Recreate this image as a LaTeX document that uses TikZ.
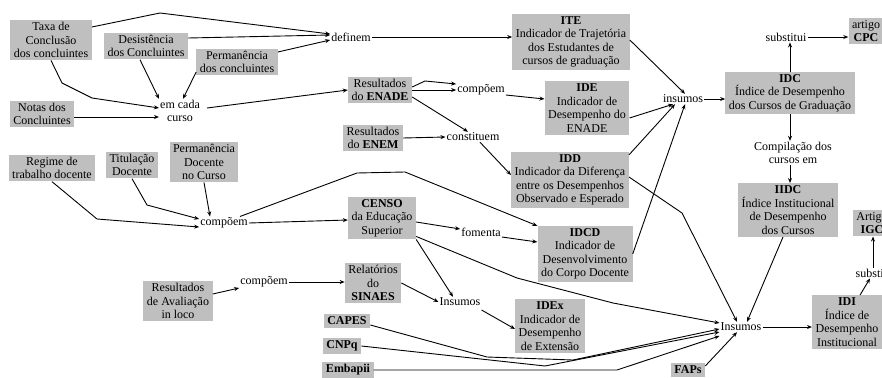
\documentclass[tikz,border=0pt]{standalone}
\usepackage{fontspec}
\setmainfont{Liberation Serif}
\usepackage{tikz}
\usetikzlibrary{arrows.meta}
\definecolor{boxgray}{RGB}{191,191,191}
\tikzset{
  infobox/.style={rectangle, fill=boxgray, align=center, inner xsep=3.5pt, inner ysep=2.5pt, font=\fontsize{12}{13.5}\selectfont},
  linkword/.style={align=center, inner sep=1pt, font=\fontsize{12}{13.5}\selectfont},
  flow/.style={-{Stealth[length=5pt,width=4pt]}, line width=0.9pt},
}
\begin{document}
\begin{tikzpicture}[x=1pt, y=-1pt]
\useasboundingbox (0,0) rectangle (882,377);
\clip (0,0) rectangle (882,377);
\node[infobox] (taxa) at (51,40) {Taxa de\\Conclusão\\dos concluintes};
\node[infobox] (desist) at (146,46) {Desistência\\dos Concluintes};
\node[infobox] (permc) at (237,62) {Permanência\\dos concluintes};
\node[infobox] (notas) at (42,114) {Notas dos\\Concluintes};
\node[linkword] (emcada) at (180,111) {em cada\\curso};
\node[linkword] (definem) at (351,37) {definem};
\node[infobox] (enade) at (380,90) {Resultados\\do \textbf{ENADE}};
\node[infobox] (enem) at (373,138) {Resultados\\do \textbf{ENEM}};
\node[infobox] (regime) at (52,168) {Regime de\\trabalho docente};
\node[infobox] (titul) at (132,165) {Titulação\\Docente};
\node[infobox] (permd) at (204,162) {Permanência\\Docente\\no Curso};
\node[linkword] (compdoc) at (224,223) {compõem};
\node[infobox] (censo) at (382,218) {\textbf{CENSO}\\da Educação\\Superior};
\node[infobox] (avali) at (178,301) {Resultados\\de Avaliação\\in loco};
\node[linkword] (compaval) at (264,282) {compõem};
\node[infobox] (sinaes) at (373,283) {Relatórios\\do\\\textbf{SINAES}};
\node[infobox] (capes) at (347,321) {\textbf{CAPES}};
\node[infobox] (cnpq) at (342,346) {\textbf{CNPq}};
\node[infobox] (embapii) at (348,370) {\textbf{Embapii}};
\node[infobox] (faps) at (688,370) {\textbf{FAPs}};
\node[linkword] (compenade) at (481,90) {compõem};
\node[linkword] (constituem) at (473,137) {constituem};
\node[infobox] (ite) at (571,42) {\textbf{ITE}\\Indicador de Trajetória\\dos Estudantes de\\cursos de graduação};
\node[infobox] (ide) at (587,108) {\textbf{IDE}\\Indicador de\\Desempenho do\\ENADE};
\node[infobox] (idd) at (570,180) {\textbf{IDD}\\Indicador da Diferença\\entre os Desempenhos\\Observado e Esperado};
\node[linkword] (fomenta) at (481,232) {fomenta};
\node[infobox] (idcd) at (585,254) {\textbf{IDCD}\\Indicador de\\Desenvolvimento\\do Corpo Docente};
\node[linkword] (insumosb) at (460,302) {Insumos};
\node[infobox] (idex) at (550,326) {\textbf{IDEx}\\Indicador de\\Desempenho\\de Extensão};
\node[linkword] (insumosa) at (683,99) {insumos};
\node[infobox] (idc) at (790,93) {\textbf{IDC}\\Índice de Desempenho\\dos Cursos de Graduação};
\node[linkword] (substa) at (786,37) {substitui};
\node[infobox] (cpc) at (866,31) {artigo\\\textbf{CPC}};
\node[linkword] (compil) at (793,153) {Compilação dos\\cursos em};
\node[infobox] (iidc) at (788,210) {\textbf{IIDC}\\Índice Institucional\\de Desempenho\\dos Cursos};
\node[linkword] (insumosc) at (741,327) {Insumos};
\node[infobox] (idi) at (847,322) {\textbf{IDI}\\Índice de\\Desempenho\\Institucional};
\node[linkword] (substb) at (876,273) {substitui};
\node[infobox] (igc) at (872,223) {Artigo\\\textbf{IGC}};

\draw[flow] ([yshift=13pt]taxa.east) -- (160,13) -- ([yshift=3pt]definem.west);
\draw[flow] ([yshift=8pt]desist.east) -- ([yshift=2pt]definem.west);
\draw[flow] ([yshift=10pt]permc.east) -- ([yshift=-3pt]definem.west);
\draw[flow] (definem.east) -- (ite.west |- definem.east);
\draw[flow] (taxa.south) -- (62,83) -- (92,98) -- ([yshift=3pt]emcada.west);
\draw[flow] ([xshift=-6pt]desist.south) -- (emcada.north west);
\draw[flow] ([yshift=-10pt]permc.west) -- ([xshift=3pt]emcada.north);
\draw[flow] ([yshift=-3pt]notas.east) -- ([yshift=-6pt]emcada.west);
\draw[flow] ([shift={(6pt,3pt)}]emcada.east) -- (enade.west);
\draw[flow] ([yshift=3pt]enade.east) -- (425,81) -- ([yshift=6pt]compenade.west);
\draw[flow] (enade.east) -- (compenade.west);
\draw[flow] ([yshift=-7pt]enade.east) -- ([xshift=-5pt]constituem.north);
\draw[flow] (enem.east) -- (constituem.west);
\draw[flow] ([yshift=-5pt]compenade.east) -- ([yshift=9pt]ide.west);
\draw[flow] ([xshift=7pt]constituem.south) -- ([yshift=5pt]idd.west);
\draw[flow] ([yshift=2pt]ite.east) -- ([xshift=2pt]insumosa.north);
\draw[flow] ([yshift=-10pt]ide.east) -- ([xshift=-10pt]insumosa.south);
\draw[flow] ([yshift=-3pt]idd.north east) -- ([xshift=-8pt]insumosa.south);
\draw[flow] (idcd.east) -- ([xshift=2pt]insumosa.south);
\draw[flow] (insumosa.east) -- (insumosa.east -| idc.west);
\draw[flow] (idc.north) -- (idc.north |- substa.south);
\draw[flow] (substa.east) -- (substa.east -| cpc.west);
\draw[flow] (idc.south) -- (idc.south |- compil.north);
\draw[flow] (idc.south |- compil.south) -- (idc.south |- iidc.north);
\draw[flow] ([xshift=-5pt]iidc.south) -- ([xshift=6pt]insumosc.north);
\draw[flow] ([yshift=3pt]idd.east) -- (682,213) -- ([xshift=-4pt]insumosc.north);
\draw[flow] (insumosc.east) -- (insumosc.east -| idi.west);
\draw[flow] ([xshift=13pt]idi.north) -- ([xshift=-6pt]substb.south);
\draw[flow] ([xshift=-3pt]substb.north) -- ([xshift=1pt]igc.south);
\draw[flow] ([yshift=4pt]faps.east) -- ([xshift=-4pt]insumosc.south);
\draw[flow] ([yshift=-4pt]censo.east) -- ([yshift=3pt]fomenta.west);
\draw[flow] ([yshift=-5pt]fomenta.east) -- ([yshift=12pt]idcd.west);
\draw[flow] ([xshift=16pt]compdoc.north) -- (357,173) -- (405,172) -- (idcd.north west);
\draw[flow] (compdoc.east) -- ([yshift=-2pt]censo.west);
\draw[flow] (regime.south) -- (97,219) -- ([yshift=-4pt]compdoc.west);
\draw[flow] (titul.south) -- (147,205) -- ([yshift=4pt]compdoc.west);
\draw[flow] (permd.south) -- ([xshift=-14pt]compdoc.north);
\draw[flow] ([yshift=3pt]censo.south east) -- (517,278) -- (613,303) -- ([yshift=4pt]insumosc.west);
\draw[flow] (censo.south east) -- ([xshift=-7pt]insumosb.north);
\draw[flow] ([yshift=7pt]avali.east) -- ([yshift=-6pt]compaval.west);
\draw[flow] (compaval.east) -- (compaval.east -| sinaes.west);
\draw[flow] (sinaes.east) -- (insumosb.west);
\draw[flow] ([yshift=-8pt]insumosb.east) -- ([yshift=-3pt]idex.west);
\draw[flow] ([yshift=-4pt]capes.east) -- (487,357) -- (573,360) -- ([yshift=-2pt]insumosc.west);
\draw[flow] (cnpq.east) -- (545,366) -- ([yshift=-5pt]insumosc.west);
\draw[flow] (embapii.east) -- (617,370) -- ([yshift=-9pt]insumosc.west);
\end{tikzpicture}
\end{document}
